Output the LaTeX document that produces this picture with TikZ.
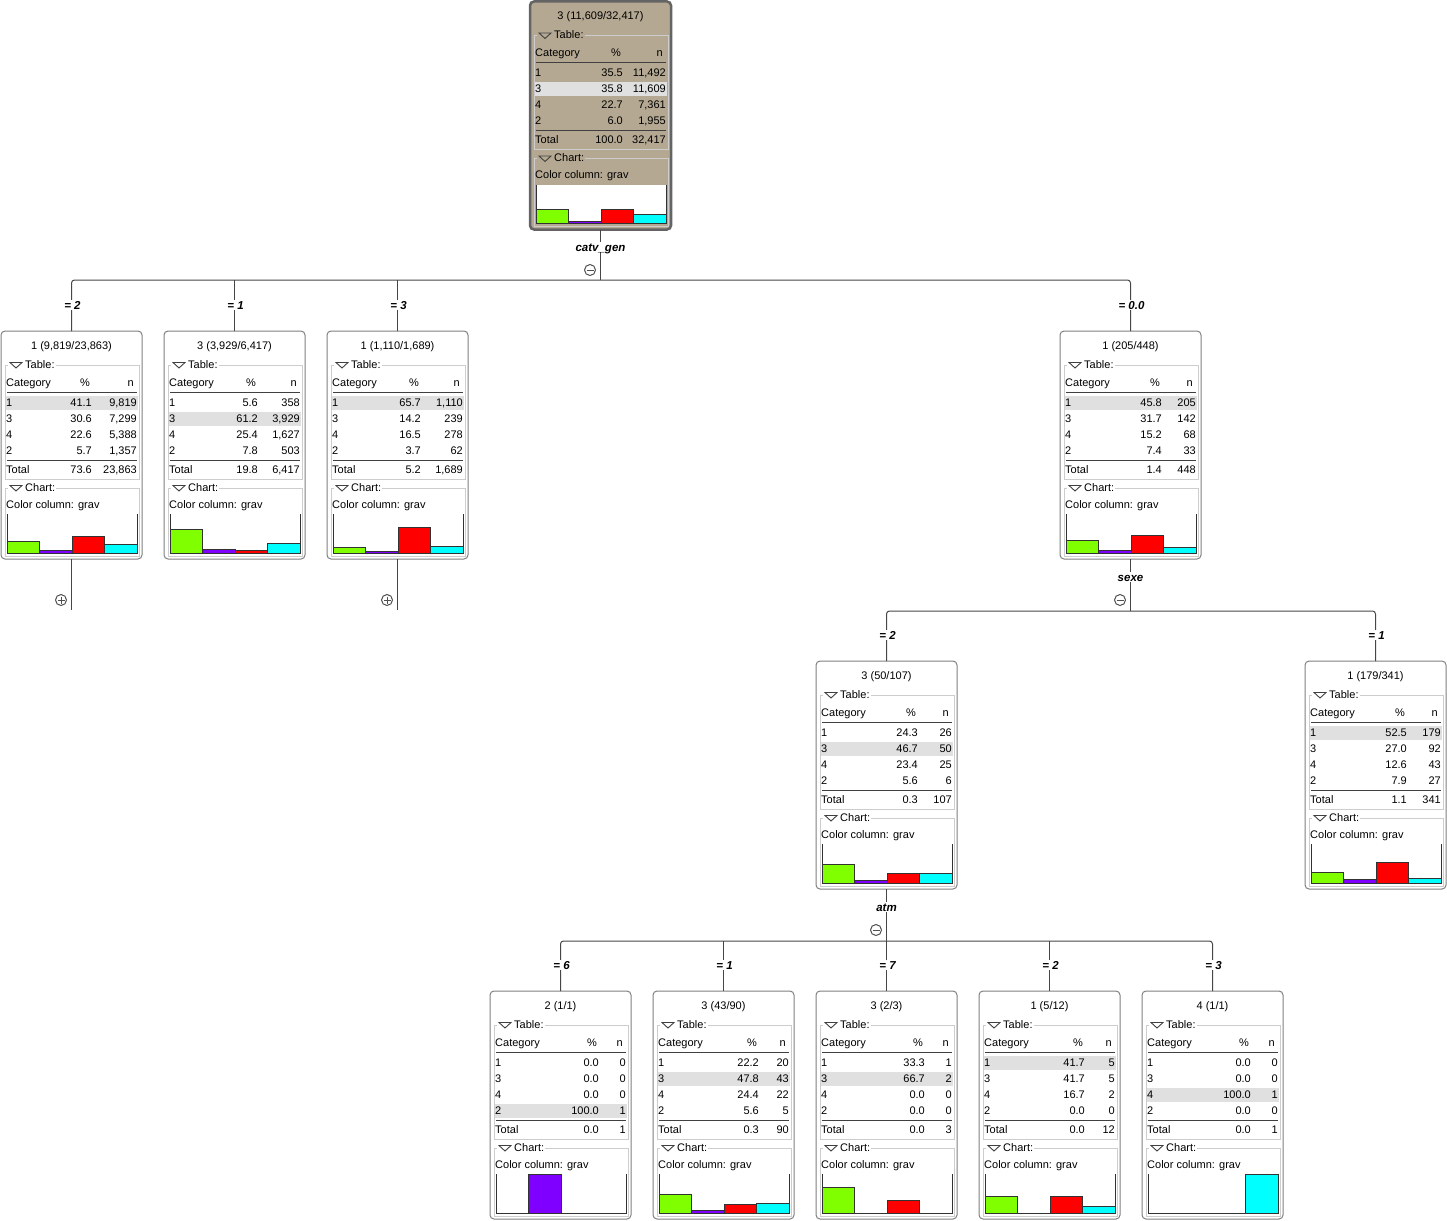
\documentclass[tikz,border=0pt]{standalone}
\usepackage{fontspec}
\setmainfont{Liberation Sans}
\definecolor{linec}{RGB}{70,70,70}
\definecolor{boxc}{RGB}{128,128,128}
\definecolor{rootb}{RGB}{100,100,100}
\definecolor{roottan}{RGB}{181,168,146}
\definecolor{grpc}{RGB}{205,205,205}
\definecolor{rulec}{RGB}{64,64,64}
\definecolor{hlc}{RGB}{224,224,224}
\definecolor{barline}{RGB}{50,50,50}
\definecolor{symc}{RGB}{80,80,80}
\definecolor{tric}{RGB}{64,64,64}
\definecolor{gbar}{RGB}{128,255,0}
\definecolor{pbar}{RGB}{128,0,255}
\definecolor{rbar}{RGB}{255,0,0}
\definecolor{cbar}{RGB}{0,255,255}
\tikzset{
 conn/.style={draw=linec, line width=1pt},
 boxst/.style={draw=boxc, line width=1pt, fill=white, rounded corners=4pt, minimum width=141pt, minimum height=228pt, inner sep=0pt, outer sep=0pt, anchor=north west},
 rootst/.style={boxst, draw=rootb, line width=2.5pt, fill=roottan},
 txt/.style={inner sep=0pt, font=\fontsize{11}{13}\selectfont, text height=8pt, text depth=0pt, yshift=1pt},
 elab/.style={inner sep=0.6pt, fill=white, font=\fontsize{11.5}{13}\selectfont\bfseries\itshape, text height=8pt, text depth=0pt},
 grp/.style={draw=grpc, line width=1pt},
 rulest/.style={draw=rulec, line width=1pt},
 barst/.style={draw=barline, line width=1pt},
 frm/.style={draw=barline, line width=1pt},
 tri/.style={draw=tric, line width=0.9pt, line join=miter},
 sym/.style={circle, draw=symc, line width=1pt, minimum size=11pt, inner sep=0pt, fill=white},
 symline/.style={draw=symc, line width=1pt},
}
% #1 name, #2 left, #3 top, #4 style, #5 title, #6 right edge of % column, #7 background
\newcommand\tstart[7]{%
 \node[#4] (#1) at (#2,#3) {};
 \def\curname{#1}\def\pr{#6}%
 \begin{scope}[shift={(#2,#3)}]
 \node[txt] (#1-ttl) at (70.5,15) {#5};
 \draw[grp] (4,34) rectangle (138,148);
 \draw[grp] (4,157) rectangle (138,225);
 \fill[#7] (7,29) rectangle (23,39);
 \fill[#7] (7,152) rectangle (23,162);
 \draw[tri] (9,31.5) -- (21,31.5) -- (15,37) -- cycle;
 \draw[tri] (9,154.5) -- (21,154.5) -- (15,160) -- cycle;
 \node[txt,anchor=west,fill=#7,inner xsep=1pt] (#1-tl) at (23,34) {Table:};
 \node[txt,anchor=west,fill=#7,inner xsep=1pt] (#1-cl) at (23,157) {Chart:};
 \node[txt,anchor=west] (#1-hc) at (5,52) {Category};
 \node[txt,anchor=east] (#1-hp) at ({#6-2},52) {\%};
 \node[txt,anchor=east] (#1-hn) at (133,52) {n};
 \draw[rulest] (6,61) -- (136,61);
 \draw[rulest] (6,129) -- (136,129);
 \node[txt,anchor=west] (#1-cc) at (5,174) {Color column: grav};
 \fill[white] (6,183) rectangle (136,222);
}
\newcommand\thl[1]{\fill[hlc] (5,{#1-7}) rectangle (137,{#1+7});}
\newcommand\trow[4]{%
 \node[txt,anchor=west] (\curname-c#1) at (5,#1) {#2};
 \node[txt,anchor=east] (\curname-p#1) at (\pr,#1) {#3};
 \node[txt,anchor=east] (\curname-n#1) at (136,#1) {#4};
}
% bars: cat3 green, cat2 purple, cat1 red, cat4 cyan
\newcommand\tend[4]{%
 \draw[barst,fill=gbar] (6,222) rectangle (38.5,{222-0.39*#1});
 \draw[barst,fill=pbar] (38.5,222) rectangle (71,{222-0.39*#2});
 \draw[barst,fill=rbar] (71,222) rectangle (103.5,{222-0.39*#3});
 \draw[barst,fill=cbar] (103.5,222) rectangle (136,{222-0.39*#4});
 \draw[frm] (6,183) -- (6,222) -- (136,222) -- (136,183);
 \end{scope}
}
\begin{document}
\begin{tikzpicture}[x=1pt,y=-1pt]
\useasboundingbox (0,0) rectangle (1447,1220);

% ---------- root ----------
\tstart{root}{530}{1.5}{rootst}{3 (11,609/32,417)}{93}{roottan}
\thl{88}
\trow{72}{1}{35.5}{11,492}
\trow{88}{3}{35.8}{11,609}
\trow{104}{4}{22.7}{7,361}
\trow{120}{2}{6.0}{1,955}
\trow{139}{Total}{100.0}{32,417}
\tend{35.8}{6.0}{35.5}{22.7}

% ---------- level 1 ----------
\tstart{n1}{1}{331}{boxst}{1 (9,819/23,863)}{91}{white}
\thl{72}
\trow{72}{1}{41.1}{9,819}
\trow{88}{3}{30.6}{7,299}
\trow{104}{4}{22.6}{5,388}
\trow{120}{2}{5.7}{1,357}
\trow{139}{Total}{73.6}{23,863}
\tend{30.6}{5.7}{41.1}{22.6}

\tstart{n2}{164}{331}{boxst}{3 (3,929/6,417)}{94}{white}
\thl{88}
\trow{72}{1}{5.6}{358}
\trow{88}{3}{61.2}{3,929}
\trow{104}{4}{25.4}{1,627}
\trow{120}{2}{7.8}{503}
\trow{139}{Total}{19.8}{6,417}
\tend{61.2}{7.8}{5.6}{25.4}

\tstart{n3}{327}{331}{boxst}{1 (1,110/1,689)}{94}{white}
\thl{72}
\trow{72}{1}{65.7}{1,110}
\trow{88}{3}{14.2}{239}
\trow{104}{4}{16.5}{278}
\trow{120}{2}{3.7}{62}
\trow{139}{Total}{5.2}{1,689}
\tend{14.2}{3.7}{65.7}{16.5}

\tstart{n4}{1060}{331}{boxst}{1 (205/448)}{102}{white}
\thl{72}
\trow{72}{1}{45.8}{205}
\trow{88}{3}{31.7}{142}
\trow{104}{4}{15.2}{68}
\trow{120}{2}{7.4}{33}
\trow{139}{Total}{1.4}{448}
\tend{31.7}{7.4}{45.8}{15.2}

% ---------- level 2 ----------
\tstart{n5}{816}{661}{boxst}{3 (50/107)}{102}{white}
\thl{88}
\trow{72}{1}{24.3}{26}
\trow{88}{3}{46.7}{50}
\trow{104}{4}{23.4}{25}
\trow{120}{2}{5.6}{6}
\trow{139}{Total}{0.3}{107}
\tend{46.7}{5.6}{24.3}{23.4}

\tstart{n6}{1305}{661}{boxst}{1 (179/341)}{102}{white}
\thl{72}
\trow{72}{1}{52.5}{179}
\trow{88}{3}{27.0}{92}
\trow{104}{4}{12.6}{43}
\trow{120}{2}{7.9}{27}
\trow{139}{Total}{1.1}{341}
\tend{27.0}{7.9}{52.5}{12.6}

% ---------- level 3 ----------
\tstart{n7}{490}{991}{boxst}{2 (1/1)}{109}{white}
\thl{120}
\trow{72}{1}{0.0}{0}
\trow{88}{3}{0.0}{0}
\trow{104}{4}{0.0}{0}
\trow{120}{2}{100.0}{1}
\trow{139}{Total}{0.0}{1}
\tend{0}{100}{0}{0}

\tstart{n8}{653}{991}{boxst}{3 (43/90)}{106}{white}
\thl{88}
\trow{72}{1}{22.2}{20}
\trow{88}{3}{47.8}{43}
\trow{104}{4}{24.4}{22}
\trow{120}{2}{5.6}{5}
\trow{139}{Total}{0.3}{90}
\tend{47.8}{5.6}{22.2}{24.4}

\tstart{n9}{816}{991}{boxst}{3 (2/3)}{109}{white}
\thl{88}
\trow{72}{1}{33.3}{1}
\trow{88}{3}{66.7}{2}
\trow{104}{4}{0.0}{0}
\trow{120}{2}{0.0}{0}
\trow{139}{Total}{0.0}{3}
\tend{66.7}{0}{33.3}{0}

\tstart{n10}{979}{991}{boxst}{1 (5/12)}{106}{white}
\thl{72}
\trow{72}{1}{41.7}{5}
\trow{88}{3}{41.7}{5}
\trow{104}{4}{16.7}{2}
\trow{120}{2}{0.0}{0}
\trow{139}{Total}{0.0}{12}
\tend{41.7}{0}{41.7}{16.7}

\tstart{n11}{1142}{991}{boxst}{4 (1/1)}{109}{white}
\thl{104}
\trow{72}{1}{0.0}{0}
\trow{88}{3}{0.0}{0}
\trow{104}{4}{100.0}{1}
\trow{120}{2}{0.0}{0}
\trow{139}{Total}{0.0}{1}
\tend{0}{0}{0}{100}

% ---------- connectors ----------
\coordinate (j0) at (600.5,280);
\coordinate (j1) at (1130.5,611);
\coordinate (j2) at (886.5,941);
\coordinate (e1) at (71.5,610);
\coordinate (e3) at (397.5,610);

\draw[conn] (root.south) -- (j0);
\draw[conn,rounded corners=3pt] (n1.north) |- (j0) -| (n4.north);
\draw[conn] (n2.north) -- (n2.north |- j0);
\draw[conn] (n3.north) -- (n3.north |- j0);
\draw[conn] (n1.south) -- (e1);
\draw[conn] (n3.south) -- (e3);

\draw[conn] (n4.south) -- (j1);
\draw[conn,rounded corners=3pt] (n5.north) |- (j1) -| (n6.north);

\draw[conn] (n5.south) -- (j2);
\draw[conn,rounded corners=3pt] (n7.north) |- (j2) -| (n11.north);
\draw[conn] (n8.north) -- (n8.north |- j2);
\draw[conn] (n9.north) -- (n9.north |- j2);
\draw[conn] (n10.north) -- (n10.north |- j2);

% ---------- split labels and symbols ----------
\node[elab] (s0) at (600.5,247) {catv\_gen};
\node[elab] (s1) at (1130.5,577) {sexe};
\node[elab] (s2) at (886.5,907) {atm};

\node[sym] (m0) at (590,270) {};
\draw[symline] ([xshift=2.5pt]m0.west) -- ([xshift=-2.5pt]m0.east);
\node[sym] (m1) at (1120,600) {};
\draw[symline] ([xshift=2.5pt]m1.west) -- ([xshift=-2.5pt]m1.east);
\node[sym] (m2) at (876,930) {};
\draw[symline] ([xshift=2.5pt]m2.west) -- ([xshift=-2.5pt]m2.east);
\node[sym] (p1) at (61,600) {};
\draw[symline] ([xshift=2.5pt]p1.west) -- ([xshift=-2.5pt]p1.east);
\draw[symline] ([yshift=-2.5pt]p1.north) -- ([yshift=2.5pt]p1.south);
\node[sym] (p3) at (387,600) {};
\draw[symline] ([xshift=2.5pt]p3.west) -- ([xshift=-2.5pt]p3.east);
\draw[symline] ([yshift=-2.5pt]p3.north) -- ([yshift=2.5pt]p3.south);

% ---------- edge labels ----------
\node[elab] (l1) at (72.5,305) {= 2};
\node[elab] (l2) at (235.5,305) {= 1};
\node[elab] (l3) at (398.5,305) {= 3};
\node[elab] (l4) at (1131.5,305) {= 0.0};
\node[elab] (l5) at (887.5,635) {= 2};
\node[elab] (l6) at (1376.5,635) {= 1};
\node[elab] (l7) at (561.5,965) {= 6};
\node[elab] (l8) at (724.5,965) {= 1};
\node[elab] (l9) at (887.5,965) {= 7};
\node[elab] (l10) at (1050.5,965) {= 2};
\node[elab] (l11) at (1213.5,965) {= 3};
\end{tikzpicture}
\end{document}
